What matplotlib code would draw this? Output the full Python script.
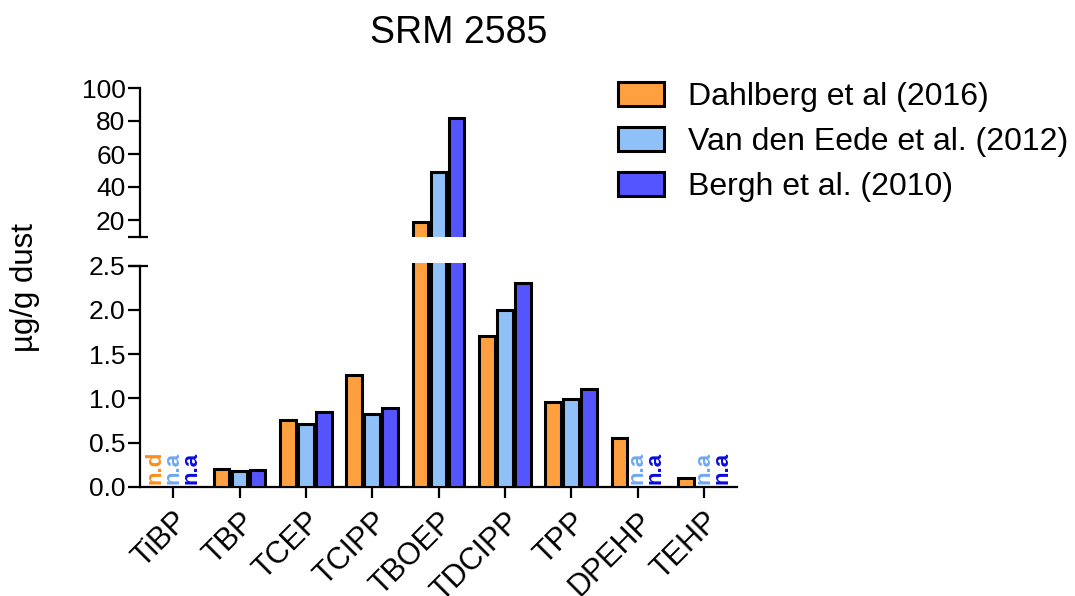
import matplotlib
matplotlib.use("Agg")
import matplotlib.pyplot as plt
import numpy as np

plt.rcParams['font.family'] = ['Liberation Sans', 'DejaVu Sans']

categories = ["TiBP", "TBP", "TCEP", "TCIPP", "TBOEP", "TDCIPP", "TPP", "DPEHP", "TEHP"]
series_names = ["Dahlberg et al (2016)", "Van den Eede et al. (2012)", "Bergh et al. (2010)"]
# None = not reported (label shown instead)
dahlberg = [None, 0.205, 0.76, 1.26, 19.0, 1.70, 0.96, 0.555, 0.105]
vandeneede = [None, 0.185, 0.71, 0.83, 49.0, 2.00, 0.99, None, None]
bergh = [None, 0.195, 0.85, 0.89, 82.0, 2.30, 1.11, None, None]
missing_labels = [["n.d", "n.a", "n.a"], [None]*3, [None]*3, [None]*3, [None]*3,
                  [None]*3, [None]*3, [None, "n.a", "n.a"], [None, "n.a", "n.a"]]
bottom_ticks = [0.0, 0.5, 1.0, 1.5, 2.0, 2.5]
top_ticks = [20, 40, 60, 80, 100]

fills = ["#FFA040", "#90C0F8", "#5555FF"]
text_cols = ["#FF8C1A", "#70A8F0", "#0A0AE0"]

W, H = 1075, 596
fig = plt.figure(figsize=(W/100, H/100), dpi=100)

def fx(px):
    return px / W

def fy(py):
    return 1 - py / H

left, right = 140, 737
ax_top = fig.add_axes([fx(left), fy(236.5), fx(right) - fx(left), fy(88) - fy(236.5)])
ax_bot = fig.add_axes([fx(left), fy(487), fx(right) - fx(left), fy(263) - fy(487)])

x = np.arange(len(categories))
width = 0.235
offset = 0.27
series = [dahlberg, vandeneede, bergh]

for ax in (ax_top, ax_bot):
    for i, s in enumerate(series):
        xs = [x[j] + (i - 1) * offset for j in range(len(s)) if s[j] is not None]
        vs = [s[j] for j in range(len(s)) if s[j] is not None]
        ax.bar(xs, vs, width=width, color=fills[i], edgecolor="black", linewidth=2.2,
               label=series_names[i] if ax is ax_bot else None, zorder=3)
    ax.set_xlim(-0.5, 8.5)
    for sp in ("top", "right"):
        ax.spines[sp].set_visible(False)
    ax.spines["left"].set_linewidth(1.6)
    ax.tick_params(axis="y", labelsize=19, length=8.5, width=1.6, pad=2)

# top axes
ax_top.set_ylim(10, 100)
ax_top.spines["bottom"].set_visible(False)
ax_top.set_xticks([])
ax_top.set_yticks(top_ticks)
ax_top.set_yticklabels([str(t) for t in top_ticks])
ax_top.spines["left"].set_bounds(10, 100)

# bottom axes
ax_bot.set_ylim(0, 2.53)
ax_bot.spines["left"].set_bounds(0, 2.5)
ax_bot.spines["bottom"].set_linewidth(1.6)
ax_bot.set_yticks(bottom_ticks)
ax_bot.set_yticklabels([f"{t:.1f}" for t in bottom_ticks])
ax_bot.set_xticks(x)
ax_bot.set_xticklabels(categories, rotation=45, ha="right", rotation_mode="anchor",
                       fontsize=22)
ax_bot.tick_params(axis="x", length=8, width=1.6, pad=6)

# break marks
ax_top.plot([-0.02, 0.013], [10, 10], transform=ax_top.get_yaxis_transform(),
            color="black", lw=1.6, clip_on=False, solid_capstyle="butt")
ax_bot.plot([-0.02, 0.013], [2.5, 2.5], transform=ax_bot.get_yaxis_transform(),
            color="black", lw=1.6, clip_on=False, solid_capstyle="butt")

# missing labels
for j, labs in enumerate(missing_labels):
    for i, lab in enumerate(labs):
        if lab:
            ax_bot.text(x[j] + (i - 1) * offset, 0.03, lab, rotation=90, ha="center",
                        va="bottom", color=text_cols[i], fontsize=16, fontweight="bold",
                        zorder=4)

fig.text(fx(459), fy(33), "SRM 2585", ha="center", va="center", fontsize=27)
fig.text(fx(25), fy(288), "µg/g dust", ha="center", va="center", rotation=90, fontsize=22.5)

fig.legend(*ax_bot.get_legend_handles_labels(), loc="upper left",
           bbox_to_anchor=(fx(618), fy(82)), frameon=False, fontsize=23,
           handlelength=1.44, handleheight=0.75, handletextpad=0.75, labelspacing=0.47,
           borderaxespad=0, borderpad=0)

fig.savefig("out.png", dpi=100)
